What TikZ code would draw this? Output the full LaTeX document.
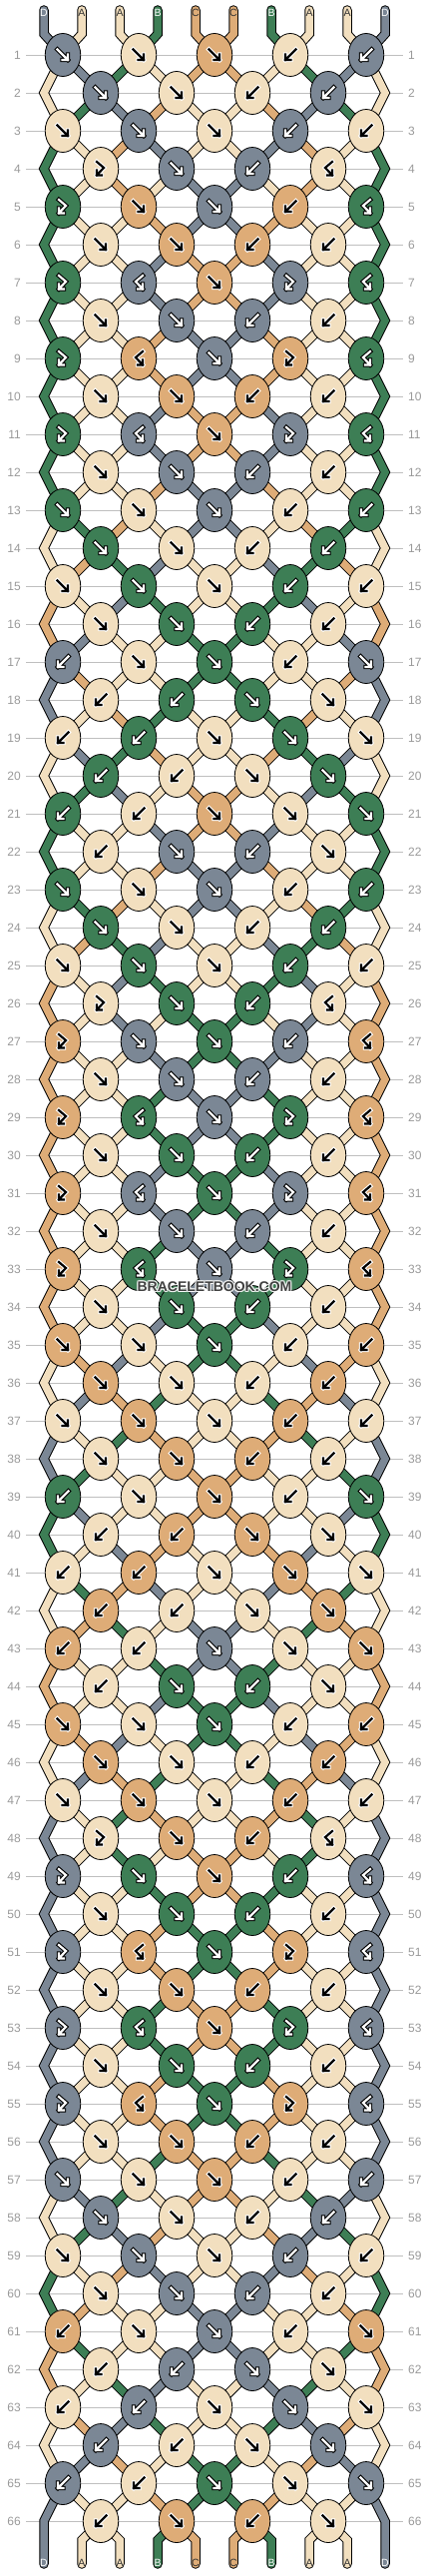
\documentclass[tikz,border=0pt]{standalone}
\usepackage{fontspec}
\setmainfont{Liberation Sans}
\usetikzlibrary{shapes.geometric}

\definecolor{colA}{HTML}{F2DFBF}
\definecolor{colB}{HTML}{3D7E55}
\definecolor{colC}{HTML}{DEAC77}
\definecolor{colD}{HTML}{7B8795}

% arrow colour, arrow rim, label colour per thread
\def\fgA{black}\def\bgA{white}\def\lbA{black!80}
\def\fgB{white}\def\bgB{black}\def\lbB{white}
\def\fgC{black}\def\bgC{white}\def\lbC{black!80}
\def\fgD{white}\def\bgD{black}\def\lbD{white}

% knot kinds: which thread gives the colour, do the threads cross
\def\sidef{l}\def\swapf{1}
\def\sideb{r}\def\swapb{1}
\def\sidefb{l}\def\swapfb{0}
\def\sidebf{r}\def\swapbf{0}
\def\glyphf{(-5.5,-5.5) -- (5,5) (-0.5,5) -- (5,5) -- (5,-0.5)}
\def\glyphb{(5.5,-5.5) -- (-5,5) (0.5,5) -- (-5,5) -- (-5,-0.5)}
\def\glyphfb{(-4,-7) -- (3,-1) -- (-4,6.5) (-4,1.5) -- (-4,6.5) -- (1,6.5)}
\def\glyphbf{(4,-7) -- (-3,-1) -- (4,6.5) (4,1.5) -- (4,6.5) -- (-1,6.5)}

\tikzset{
  knot/.style={ellipse, draw=black, line width=0.8pt, fill=#1,
    minimum width=35.5pt, minimum height=43pt, inner sep=0pt},
  strand/.style={draw=black, line width=1pt, double=col#1,
    double distance=7.5pt, line cap=round, line join=miter},
  rowlab/.style={text=black!40, font=\fontsize{12}{12}\selectfont, inner sep=5pt},
  rowline/.style={black!25, line width=0.8pt},
  strlab/.style={font=\fontsize{10.5}{10.5}\selectfont, inner sep=0pt},
  arrowrim/.style={line width=4.4pt, line cap=rect, line join=miter},
  arrowline/.style={line width=2.2pt, line cap=rect, line join=miter},
  logo/.style={font=\bfseries\fontsize{14}{14}\selectfont},
}

\newcommand\nodeof[2]{%
  \ifodd#1\relax
    \pgfmathtruncatemacro\kk{(#2+1)/2}\edef\nm{k-#1-\kk}%
  \else
    \pgfmathtruncatemacro\kk{#2/2}\edef\nm{k-#1-\kk}%
  \fi}

\begin{document}
\begin{tikzpicture}[x=1pt,y=-1pt]
\useasboundingbox (0,0) rectangle (430,2580);

% row numbers and guide lines
\foreach \r in {1,...,66} {
  \pgfmathsetmacro\y{55+38*(\r-1)}
  \node[rowlab, anchor=east] (rl-\r) at (26,\y) {\r};
  \node[rowlab, anchor=west] (rr-\r) at (404,\y) {\r};
  \draw[rowline] (rl-\r) -- (rr-\r);
}

% threads at the start
\foreach \p/\s in {1/D,2/A,3/A,4/B,5/C,6/C,7/B,8/A,9/A,10/D}
  \expandafter\xdef\csname str\p\endcsname{\s};

% first pass: follow the threads row by row and draw them
\foreach \types [count=\r] in {
  {f,f,f,b,b},{f,f,b,b},{f,f,f,b,b},{fb,f,b,bf},{fb,f,f,b,bf},
  {f,f,b,b},{fb,bf,f,fb,bf},{f,f,b,b},{fb,bf,f,fb,bf},{f,f,b,b},
  {fb,bf,f,fb,bf},{f,f,b,b},{f,f,f,b,b},{f,f,b,b},{f,f,f,b,b},
  {f,f,b,b},{b,f,f,b,f},{b,b,f,f},{b,b,f,f,f},{b,b,f,f},
  {b,b,f,f,f},{b,f,b,f},{f,f,f,b,b},{f,f,b,b},{f,f,f,b,b},
  {fb,f,b,bf},{fb,f,f,b,bf},{f,f,b,b},{fb,bf,f,fb,bf},{f,f,b,b},
  {fb,bf,f,fb,bf},{f,f,b,b},{fb,bf,f,fb,bf},{f,f,b,b},{f,f,f,b,b},
  {f,f,b,b},{f,f,f,b,b},{f,f,b,b},{b,f,f,b,f},{b,b,f,f},
  {b,b,f,f,f},{b,b,f,f},{b,b,f,f,f},{b,f,b,f},{f,f,f,b,b},
  {f,f,b,b},{f,f,f,b,b},{fb,f,b,bf},{fb,f,f,b,bf},{f,f,b,b},
  {fb,bf,f,fb,bf},{f,f,b,b},{fb,bf,f,fb,bf},{f,f,b,b},{fb,bf,f,fb,bf},
  {f,f,b,b},{f,f,f,b,b},{f,f,b,b},{f,f,f,b,b},{f,f,b,b},
  {b,f,f,b,f},{b,b,f,f},{b,b,f,f,f},{b,b,f,f},{b,b,f,f,f},
  {b,f,b,f}} {
  \pgfmathsetmacro\y{55+38*(\r-1)}
  \pgfmathtruncatemacro\rp{\r-1}
  \pgfmathtruncatemacro\rpp{\r-2}
  \ifodd\r\else
    \coordinate (e-\r-1) at (44,\y);
    \coordinate (e-\r-10) at (386,\y);
  \fi
  \foreach \ty [count=\k] in \types {
    \ifodd\r
      \pgfmathsetmacro\x{63+76*(\k-1)}\pgfmathtruncatemacro\pl{2*\k-1}
    \else
      \pgfmathsetmacro\x{101+76*(\k-1)}\pgfmathtruncatemacro\pl{2*\k}
    \fi
    \pgfmathtruncatemacro\pr{\pl+1}
    \coordinate (k-\r-\k) at (\x,\y);
    \edef\cL{\csname str\pl\endcsname}\edef\cR{\csname str\pr\endcsname}
    \edef\kname{\r-\k}
    \expandafter\xdef\csname ty-\kname\endcsname{\ty}
    \if l\csname side\ty\endcsname
      \expandafter\xdef\csname kc-\kname\endcsname{\cL}
    \else
      \expandafter\xdef\csname kc-\kname\endcsname{\cR}
    \fi
    % threads coming into this knot
    \foreach \p in {\pl,\pr} {
      \edef\scol{\csname str\p\endcsname}
      \edef\lc{\csname lb\scol\endcsname}
      \pgfmathsetmacro\xp{44+38*(\p-1)}
      \def\isedge{0}
      \ifodd\r \ifnum\p=1 \def\isedge{1}\fi \ifnum\p=10 \def\isedge{1}\fi \fi
      \ifnum\r=1
        \draw[strand=\scol] (\xp,10) -- (\xp,34) -- (k-\r-\k);
        \node[strlab, text=\lc] (top-\p) at (\xp,13) {\scol};
      \else\ifnum\isedge=1
        \draw[strand=\scol] (k-\rpp-\k) -- (e-\rp-\p) -- (k-\r-\k);
      \else
        \nodeof{\rp}{\p}
        \draw[strand=\scol] (\nm) -- (k-\r-\k);
      \fi\fi
    }
    \if 1\csname swap\ty\endcsname
      \expandafter\xdef\csname str\pl\endcsname{\cR}
      \expandafter\xdef\csname str\pr\endcsname{\cL}
    \fi
  }
}

% threads at the end
\foreach \p in {1,...,10} {
  \edef\scol{\csname str\p\endcsname}
  \edef\lc{\csname lb\scol\endcsname}
  \pgfmathsetmacro\xp{44+38*(\p-1)}
  \ifnum\p=1
    \draw[strand=\scol] (k-65-1) -- (e-66-1) -- (\xp,2568);
  \else\ifnum\p=10
    \draw[strand=\scol] (k-65-5) -- (e-66-10) -- (\xp,2568);
  \else
    \pgfmathtruncatemacro\kk{\p/2}
    \draw[strand=\scol] (k-66-\kk) -- (\xp,2544) -- (\xp,2568);
  \fi\fi
  \node[strlab, text=\lc] (bot-\p) at (\xp,2567) {\scol};
}

% second pass: the knots on top
\foreach \r in {1,...,66} {
  \ifodd\r \def\nk{5}\else \def\nk{4}\fi
  \foreach \k in {1,...,\nk} {
    \edef\kname{\r-\k}
    \edef\ty{\csname ty-\kname\endcsname}
    \edef\kc{\csname kc-\kname\endcsname}
    \edef\fgc{\csname fg\kc\endcsname}\edef\bgc{\csname bg\kc\endcsname}
    \node[knot=col\kc] (knot-\r-\k) at (k-\r-\k) {};
    \expandafter\let\expandafter\gp\csname glyph\ty\endcsname
    \draw[arrowrim, \bgc, shift={(k-\r-\k)}] \gp;
    \draw[arrowline, \fgc, shift={(k-\r-\k)}] \gp;
  }
}

% watermark
\foreach \dx/\dy [count=\i] in {-1/0,1/0,0/-1,0/1,-1/-1,1/1,-1/1,1/-1}
  \node[logo, text=white, opacity=0.7] (halo-\i) at (215+\dx,1289+\dy) {BRACELETBOOK.COM};
\node[logo, text=black!75] (logo) at (215,1289) {BRACELETBOOK.COM};
\end{tikzpicture}
\end{document}
